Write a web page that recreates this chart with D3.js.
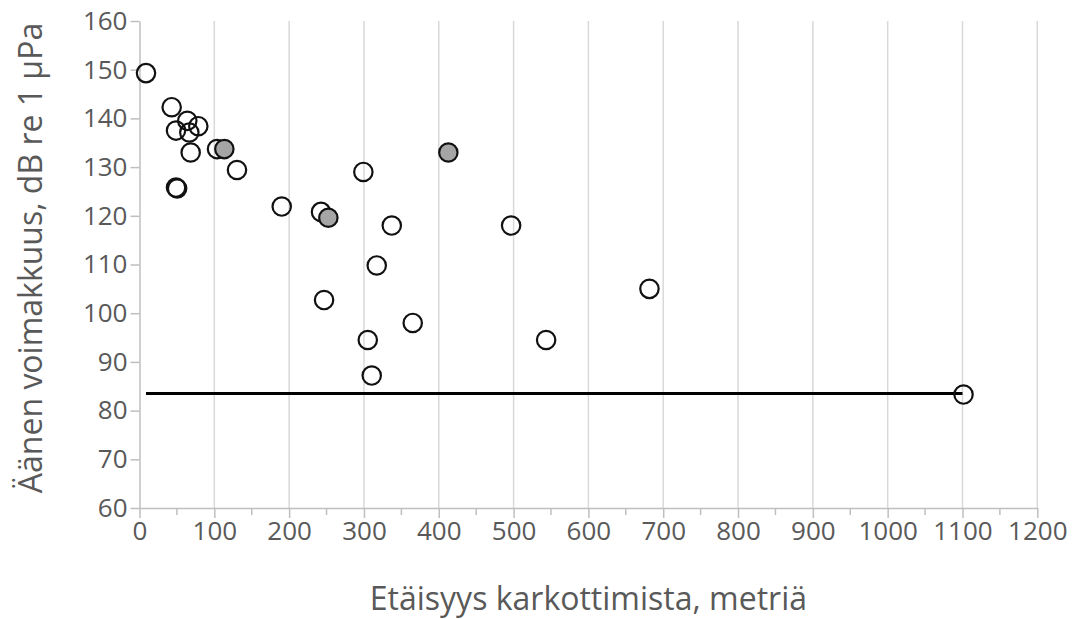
<!DOCTYPE html>
<html>
<head>
<meta charset="utf-8">
<script src="https://cdn.jsdelivr.net/npm/d3@7"></script>
<style>
  html, body { margin: 0; padding: 0; background: #fff; }
  svg { display: block; font-family: "Open Sans", sans-serif; }
</style>
</head>
<body>
<svg id="chart" width="1075" height="619"></svg>
<script>
// --- data ---
const whiteX = [8.7, 43, 63.9, 78.6, 48.8, 66.6, 68.4, 103.6, 130.3, 48.8, 50.3, 190.1, 242.6, 299.2, 337.2, 317.1, 246.7, 365.2, 305.1, 310.4, 496.7, 681.6, 543.5, 1101.4];
const whiteY = [149.3, 142.3, 139.5, 138.4, 137.5, 137.1, 133.0, 133.7, 129.4, 125.8, 125.6, 121.9, 120.8, 129.0, 118.0, 109.8, 102.7, 98.0, 94.5, 87.2, 118.0, 105.0, 94.5, 83.3];
const grayX = [113.4, 252.4, 412.8];
const grayY = [133.7, 119.6, 133.0];
const lineX = [8.7, 1100];
const lineY = [83.5, 83.5];
const xTicks = [0, 100, 200, 300, 400, 500, 600, 700, 800, 900, 1000, 1100, 1200];
const yTicks = [60, 70, 80, 90, 100, 110, 120, 130, 140, 150, 160];
const xTitle = "Etäisyys karkottimista, metriä";
const yTitle = "Äänen voimakkuus, dB re 1 µPa";

// --- layout ---
const svg = d3.select("#chart");
const pLeft = 139.5, pRight = 1037.3, pTop = 21, pBottom = 508;
const x = d3.scaleLinear().domain([0, 1200]).range([pLeft, pRight]);
const y = d3.scaleLinear().domain([60, 160]).range([pBottom, pTop]);
const textColor = "#595959";
const axisColor = "#bfbfbf";
const gridColor = "#d9d9d9";

// vertical gridlines
svg.append("g").selectAll("line")
  .data(xTicks.filter(d => d > 0))
  .join("line")
  .attr("x1", d => x(d)).attr("x2", d => x(d))
  .attr("y1", pTop).attr("y2", pBottom)
  .attr("stroke", gridColor).attr("stroke-width", 1.5);

// minor x ticks
const minor = d3.range(50, 1200, 100);
svg.append("g").selectAll("line")
  .data(minor).join("line")
  .attr("x1", d => x(d)).attr("x2", d => x(d))
  .attr("y1", pBottom).attr("y2", pBottom + 7)
  .attr("stroke", axisColor).attr("stroke-width", 1.5);

// x axis
const gx = svg.append("g").attr("transform", `translate(0,${pBottom})`)
  .call(d3.axisBottom(x).tickValues(xTicks).tickFormat(d3.format("d"))
    .tickSize(10).tickPadding(4).tickSizeOuter(0));
// y axis
const gy = svg.append("g").attr("transform", `translate(${pLeft},0)`)
  .call(d3.axisLeft(y).tickValues(yTicks).tickFormat(d3.format("d"))
    .tickSize(9).tickPadding(3).tickSizeOuter(0));

[gx, gy].forEach(g => {
  g.select(".domain").attr("stroke", axisColor).attr("stroke-width", 1.5);
  g.selectAll(".tick line").attr("stroke", axisColor).attr("stroke-width", 1.5);
  g.selectAll(".tick text").attr("fill", textColor)
    .style("font-size", "26px").style("font-family", "'Open Sans', sans-serif");
});

// threshold line
svg.append("path")
  .datum(lineX.map((d, i) => [d, lineY[i]]))
  .attr("d", d3.line().x(d => x(d[0])).y(d => y(d[1])))
  .attr("stroke", "#000").attr("stroke-width", 3).attr("fill", "none");

// white (unfilled) points
svg.append("g").selectAll("circle")
  .data(whiteX.map((d, i) => [d, whiteY[i]]))
  .join("circle")
  .attr("cx", d => x(d[0])).attr("cy", d => y(d[1]))
  .attr("r", 9.2)
  .attr("fill", "none").attr("stroke", "#111").attr("stroke-width", 2.2);

// gray points
svg.append("g").selectAll("circle")
  .data(grayX.map((d, i) => [d, grayY[i]]))
  .join("circle")
  .attr("cx", d => x(d[0])).attr("cy", d => y(d[1]))
  .attr("r", 9.2)
  .attr("fill", "#a5a5a5").attr("stroke", "#111").attr("stroke-width", 2.2);

// axis titles
svg.append("text")
  .attr("x", (pLeft + pRight) / 2).attr("y", 610)
  .attr("text-anchor", "middle")
  .attr("fill", textColor)
  .style("font-size", "32px")
  .text(xTitle);

svg.append("text")
  .attr("transform", `translate(42,258) rotate(-90)`)
  .attr("text-anchor", "middle")
  .attr("fill", textColor)
  .style("font-size", "32px")
  .text(yTitle);
</script>
</body>
</html>
